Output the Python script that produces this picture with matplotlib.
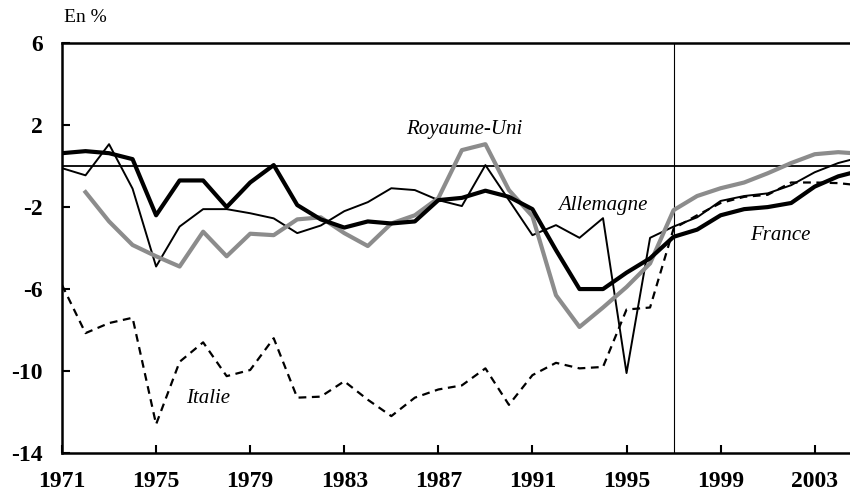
import matplotlib.pyplot as plt
import numpy as np

# années (données annuelles)
years = list(range(1971, 2006))

france = [0.63, 0.73, 0.63, 0.34, -2.4, -0.7, -0.7, -2.0, -0.8, 0.05,
          -1.9, -2.6, -3.0, -2.7, -2.8, -2.7, -1.66, -1.55, -1.2, -1.5,
          -2.1, -4.1, -6.0, -6.0, -5.2, -4.5, -3.45, -3.1, -2.4, -2.1,
          -2.0, -1.8, -1.0, -0.5, -0.2]

allemagne = [-0.1, -0.45, 1.07, -1.1, -4.9, -2.95, -2.1, -2.1, -2.3, -2.55,
             -3.27, -2.9, -2.2, -1.76, -1.08, -1.17, -1.66, -1.95, 0.05, -1.66,
             -3.37, -2.88, -3.5, -2.54, -10.1, -3.5, -2.95, -2.5, -1.7, -1.46,
             -1.33, -0.93, -0.3, 0.15, 0.45]

royaume_uni = [np.nan, -1.27, -2.7, -3.85, -4.4, -4.9, -3.2, -4.4, -3.3, -3.37,
               -2.6, -2.5, -3.27, -3.9, -2.8, -2.4, -1.56, 0.78, 1.07, -1.17,
               -2.45, -6.3, -7.85, -6.9, -5.9, -4.75, -2.15, -1.46, -1.08, -0.8,
               -0.35, 0.15, 0.58, 0.68, 0.6]

italie = [-5.8, -8.15, -7.66, -7.4, -12.6, -9.55, -8.6, -10.25, -9.95, -8.4,
          -11.3, -11.25, -10.5, -11.4, -12.2, -11.3, -10.9, -10.7, -9.87, -11.65,
          -10.2, -9.6, -9.87, -9.8, -7.0, -6.9, -3.05, -2.4, -1.8, -1.5,
          -1.4, -0.8, -0.8, -0.83, -0.95]

xticks = list(range(1971, 2004, 4))
yticks = [-14, -10, -6, -2, 2, 6]

plt.rcParams['font.family'] = ['Liberation Serif', 'DejaVu Serif']

fig = plt.figure(figsize=(8.5, 4.96), dpi=100)
ax = fig.add_axes([62/850, 0.0867, 1 - 62/850, 0.913 - 0.0867])

ax.axhline(0, color='black', lw=1.3, zorder=1)
ax.axvline(1997, color='black', lw=0.8, zorder=1)

ax.plot(years, italie, color='black', lw=1.6, ls=(0, (3.5, 2.5)), zorder=2)
ax.plot(years, allemagne, color='black', lw=1.4, zorder=3)
ax.plot(years, royaume_uni, color='#8c8c8c', lw=3.0, zorder=4)
ax.plot(years, france, color='black', lw=3.0, zorder=5)

ax.set_xlim(1971, 2004.5)
ax.set_ylim(-14, 6)
ax.set_xticks(xticks)
ax.set_yticks(yticks)
ax.set_xticklabels([str(y) for y in xticks], fontsize=17, fontweight='bold')
ax.set_yticklabels([str(v) for v in yticks], fontsize=17, fontweight='bold')
ax.tick_params(axis='both', direction='in', length=6, width=1.5)
ax.tick_params(axis='y', pad=14)
ax.tick_params(axis='x', pad=13)

ax.spines['right'].set_visible(False)
for s in ['left', 'bottom', 'top']:
    ax.spines[s].set_linewidth(1.8)

# étiquettes des séries
ax.text(1988.1, 1.8, 'Royaume-Uni', style='italic', fontsize=15, ha='center', va='center')
ax.text(1994.0, -1.9, 'Allemagne', style='italic', fontsize=15, ha='center', va='center')
ax.text(2001.55, -3.37, 'France', style='italic', fontsize=15, ha='center', va='center')
ax.text(1977.2, -11.35, 'Italie', style='italic', fontsize=15, ha='center', va='center')

fig.text(64/850, 1 - 18/496, 'En %', fontsize=14, ha='left', va='center')

fig.savefig('out.png', dpi=100)
